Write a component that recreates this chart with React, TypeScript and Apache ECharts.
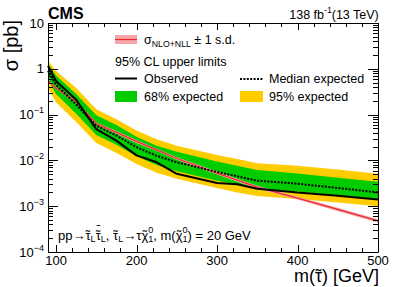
import React, { useEffect, useRef } from 'react';
import * as echarts from 'echarts';

const FONT = '"Liberation Sans", Arial, Helvetica, sans-serif';

// Stau mass points (GeV)
const mass = [90, 100, 125, 150, 175, 200, 225, 250, 300, 325, 350, 400, 450, 500];
// 95% CL upper limits (pb)
const observed = [1.15, 0.54, 0.21, 0.048, 0.027, 0.0129, 0.0091, 0.0051, 0.0032, 0.003, 0.0024, 0.002, 0.0017, 0.0014];
const expected = [0.91, 0.45, 0.166, 0.057, 0.035, 0.0195, 0.0126, 0.0091, 0.0056, 0.0045, 0.0036, 0.0031, 0.0025, 0.002];
const exp68Up = [1.29, 0.71, 0.28, 0.097, 0.059, 0.033, 0.021, 0.0155, 0.0095, 0.0076, 0.0062, 0.0052, 0.0042, 0.0034];
const exp68Down = [0.58, 0.28, 0.105, 0.036, 0.022, 0.0123, 0.0079, 0.0058, 0.0036, 0.003, 0.0024, 0.0021, 0.00174, 0.00145];
const exp95Up = [1.51, 0.89, 0.38, 0.131, 0.079, 0.045, 0.029, 0.021, 0.0132, 0.0107, 0.0087, 0.0076, 0.0063, 0.0051];
const exp95Down = [0.38, 0.186, 0.069, 0.024, 0.0145, 0.0083, 0.0054, 0.004, 0.0025, 0.002, 0.00166, 0.00144, 0.0012, 0.001];
// Theory cross section (NLO+NLL) and its +-1 s.d. band
const theory = [0.55, 0.38, 0.19, 0.063, 0.041, 0.026, 0.017, 0.011, 0.0053, 0.0037, 0.0026, 0.0015, 0.00085, 0.00048];
const theoryUp = [0.59, 0.4, 0.2, 0.067, 0.044, 0.028, 0.018, 0.0117, 0.0057, 0.004, 0.0028, 0.0016, 0.00092, 0.00052];
const theoryDown = [0.51, 0.36, 0.18, 0.059, 0.038, 0.024, 0.016, 0.0103, 0.0049, 0.0034, 0.0024, 0.0014, 0.00078, 0.00044];

const xMajorTicks = [100, 200, 300, 400, 500];
const xMinorTicks = [120, 140, 160, 180, 220, 240, 260, 280, 320, 340, 360, 380, 420, 440, 460, 480];
const yDecades = [0.0001, 0.001, 0.01, 0.1, 1, 10];
const yMinorMult = [2, 3, 4, 5, 6, 7, 8, 9];

const GREEN = '#00cc00';
const YELLOW = '#ffcc00';
const RED = '#ee2a2a';
const PINK = '#f4a6aa';

type Seg = { t: string; k?: 'sub' | 'sup' | 'acc' | 'bar'; stack?: boolean; dy?: number };

function layoutText(segs: Seg[], x: number, y: number, base: number, align: 'left' | 'right' = 'left'): any[] {
  const ctx = document.createElement('canvas').getContext('2d')!;
  const small = base * 0.7;
  const sizeOf = (s: Seg) => (s.k === 'sub' || s.k === 'sup' ? small : base);
  const widths = segs.map((s) => {
    ctx.font = `${sizeOf(s)}px ${FONT}`;
    return ctx.measureText(s.t).width;
  });
  let total = 0;
  segs.forEach((s, i) => {
    if (!s.stack && s.k !== 'acc' && s.k !== 'bar') total += widths[i];
  });
  let cx = align === 'right' ? x - total : x;
  let lastX = cx;
  let lastW = 0;
  const out: any[] = [];
  segs.forEach((s, i) => {
    const size = sizeOf(s);
    if (s.k === 'bar') {
      const by = Math.round(y + (s.dy || 0) * base) + 0.5;
      out.push({
        type: 'line',
        shape: { x1: lastX + 1, y1: by, x2: lastX + lastW - 0.5, y2: by },
        style: { stroke: '#000', lineWidth: 0.9 },
      });
      return;
    }
    if (s.k === 'acc') {
      out.push({
        type: 'text',
        x: lastX + lastW / 2,
        y: y + (s.dy || 0) * base,
        style: { text: s.t, fontSize: size, fontFamily: FONT, fill: '#000', align: 'center', verticalAlign: 'middle' },
      });
      return;
    }
    const dy = s.k === 'sub' ? base * 0.32 : s.k === 'sup' ? -base * 0.38 : 0;
    out.push({
      type: 'text',
      x: cx,
      y: y + dy,
      style: { text: s.t, fontSize: size, fontFamily: FONT, fill: '#000', align: 'left', verticalAlign: 'middle' },
    });
    if (!s.stack) {
      lastX = cx;
      lastW = widths[i];
      cx += widths[i];
    }
  });
  return out;
}

function bandSeries(name: string, up: number[], down: number[], color: string, z: number) {
  return {
    type: 'custom',
    name,
    z,
    silent: true,
    data: [[mass[0], up[0]]],
    renderItem: (_params: any, api: any) => {
      const pts: number[][] = [];
      for (let i = 0; i < mass.length; i++) pts.push(api.coord([mass[i], up[i]]));
      for (let i = mass.length - 1; i >= 0; i--) pts.push(api.coord([mass[i], down[i]]));
      return { type: 'polygon', shape: { points: pts }, style: { fill: color, stroke: null } };
    },
  };
}

const TILDE: Seg = { t: '˜', k: 'acc', dy: 0 };

export default function App() {
  const ref = useRef<HTMLDivElement>(null);
  useEffect(() => {
    const chart = echarts.init(ref.current!, null, { renderer: 'svg' });

    const graphics: any[] = [
      { type: 'text', x: 48, y: 13, style: { text: 'CMS', fontSize: 16, fontWeight: 'bold', fontFamily: FONT, fill: '#000', verticalAlign: 'middle' } },
      ...layoutText([{ t: '138 fb' }, { t: '-1', k: 'sup' }, { t: '(13 TeV)' }], 379, 15, 12.5, 'right'),
      {
        type: 'text', x: 11, y: 20, rotation: Math.PI / 2,
        style: { text: 'σ [pb]', fontSize: 20, fontFamily: FONT, fill: '#000', align: 'right', verticalAlign: 'middle' },
      },
      ...layoutText([{ t: 'm(' }, { t: 'τ' }, TILDE, { t: ') [GeV]' }], 379, 276, 18, 'right'),
      // legend
      { type: 'rect', shape: { x: 115, y: 35, width: 22, height: 9 }, style: { fill: PINK } },
      { type: 'line', shape: { x1: 115, y1: 39.5, x2: 137, y2: 39.5 }, style: { stroke: RED, lineWidth: 1.2 } },
      ...layoutText([{ t: 'σ' }, { t: 'NLO+NLL', k: 'sub' }, { t: ' ± 1 s.d.' }], 144, 40, 12.5),
      { type: 'text', x: 115, y: 62, style: { text: '95% CL upper limits', fontSize: 12.5, fontFamily: FONT, fill: '#000', verticalAlign: 'middle' } },
      { type: 'line', shape: { x1: 115, y1: 78.5, x2: 137, y2: 78.5 }, style: { stroke: '#000', lineWidth: 2 } },
      { type: 'text', x: 144, y: 78.5, style: { text: 'Observed', fontSize: 12.5, fontFamily: FONT, fill: '#000', verticalAlign: 'middle' } },
      { type: 'line', shape: { x1: 240, y1: 79, x2: 263, y2: 79 }, style: { stroke: '#000', lineWidth: 2, lineDash: [2, 1.4] } },
      { type: 'text', x: 269, y: 79, style: { text: 'Median expected', fontSize: 12.5, fontFamily: FONT, fill: '#000', verticalAlign: 'middle' } },
      { type: 'rect', shape: { x: 115, y: 91, width: 22, height: 11 }, style: { fill: GREEN } },
      { type: 'text', x: 144, y: 96.5, style: { text: '68% expected', fontSize: 12.5, fontFamily: FONT, fill: '#000', verticalAlign: 'middle' } },
      { type: 'rect', shape: { x: 240, y: 91, width: 23, height: 11 }, style: { fill: YELLOW } },
      { type: 'text', x: 269, y: 96.5, style: { text: '95% expected', fontSize: 12.5, fontFamily: FONT, fill: '#000', verticalAlign: 'middle' } },
      ...layoutText(
        [
          { t: 'pp→' }, { t: 'τ' }, TILDE, { t: 'L', k: 'sub' },
          { t: 'τ' }, TILDE, { t: '', k: 'bar', dy: -0.78 }, { t: 'L', k: 'sub' },
          { t: ', ' }, { t: 'τ' }, TILDE, { t: 'L', k: 'sub' },
          { t: '→τ' }, { t: 'χ' }, TILDE, { t: '0', k: 'sup', stack: true }, { t: '1', k: 'sub' },
          { t: ', m(' }, { t: 'χ' }, TILDE, { t: '0', k: 'sup', stack: true }, { t: '1', k: 'sub' },
          { t: ') = 20 GeV' },
        ],
        58, 235, 13,
      ),
    ];

    const option: any = {
      animation: false,
      grid: { left: 48, top: 23, width: 330, height: 229, containLabel: false },
      xAxis: {
        type: 'value', min: 90, max: 500,
        axisLine: { show: false }, axisTick: { show: false }, splitLine: { show: false },
        axisLabel: {
          margin: 2, color: '#000', fontSize: 13, fontFamily: FONT,
          formatter: (v: number) => (v % 100 === 0 ? String(v) : ''),
        },
      },
      yAxis: {
        type: 'log', logBase: 10, min: 0.0001, max: 10,
        axisLine: { show: false }, axisTick: { show: false }, splitLine: { show: false },
        axisLabel: {
          margin: 4, color: '#000', fontSize: 13, fontFamily: FONT, lineHeight: 18,
          formatter: (v: number) => {
            const e = Math.round(Math.log10(v));
            if (e === 1) return '10';
            if (e === 0) return '1';
            return '10{sup|−' + -e + '}';
          },
          rich: { sup: { fontSize: 9, fontFamily: FONT, color: '#000', verticalAlign: 'top', lineHeight: 9 } },
        },
      },
      series: [
        bandSeries('95% expected', exp95Up, exp95Down, YELLOW, 1),
        bandSeries('68% expected', exp68Up, exp68Down, GREEN, 2),
        bandSeries('theory band', theoryUp, theoryDown, PINK, 3),
        {
          type: 'line', name: 'theory', z: 4, symbol: 'none', silent: true,
          data: mass.map((m, i) => [m, theory[i]]),
          lineStyle: { color: RED, width: 1.3 },
        },
        {
          type: 'line', name: 'Median expected', z: 5, symbol: 'none', silent: true,
          data: mass.map((m, i) => [m, expected[i]]),
          lineStyle: { color: '#000', width: 2, type: [2, 1.4] },
        },
        {
          type: 'line', name: 'Observed', z: 6, symbol: 'none', silent: true,
          data: mass.map((m, i) => [m, observed[i]]),
          lineStyle: { color: '#000', width: 2 },
        },
        {
          type: 'custom', name: 'frame', z: 10, silent: true,
          data: [[100, 1]],
          renderItem: (params: any, api: any) => {
            const cs = params.coordSys;
            const x0 = cs.x, y0 = cs.y, w = cs.width, h = cs.height;
            const ch: any[] = [];
            const L = (x1: number, y1: number, x2: number, y2: number) =>
              ch.push({ type: 'line', shape: { x1, y1, x2, y2 }, style: { stroke: '#000', lineWidth: 1 } });
            const xt = (v: number, len: number) => {
              const px = Math.round(api.coord([v, 1])[0]) + 0.5;
              L(px, y0 + h, px, y0 + h - len);
              L(px, y0, px, y0 + len);
            };
            const yt = (v: number, len: number) => {
              const py = Math.round(api.coord([100, v])[1]) + 0.5;
              L(x0, py, x0 + len, py);
              L(x0 + w, py, x0 + w - len, py);
            };
            xMajorTicks.forEach((v) => xt(v, 7));
            xMinorTicks.forEach((v) => xt(v, 4));
            yDecades.forEach((d) => yt(d, 10));
            yDecades.slice(0, -1).forEach((d) => yMinorMult.forEach((k) => yt(d * k, 5)));
            ch.push({
              type: 'rect', shape: { x: x0 + 0.5, y: y0 + 0.5, width: w, height: h },
              style: { fill: 'none', stroke: '#000', lineWidth: 1 },
            });
            return { type: 'group', children: ch };
          },
        },
      ],
      graphic: graphics,
    };
    chart.setOption(option);
    return () => chart.dispose();
  }, []);
  return <div ref={ref} style={{ position: 'absolute', left: 0, top: 0, width: 399, height: 287 }} />;
}
